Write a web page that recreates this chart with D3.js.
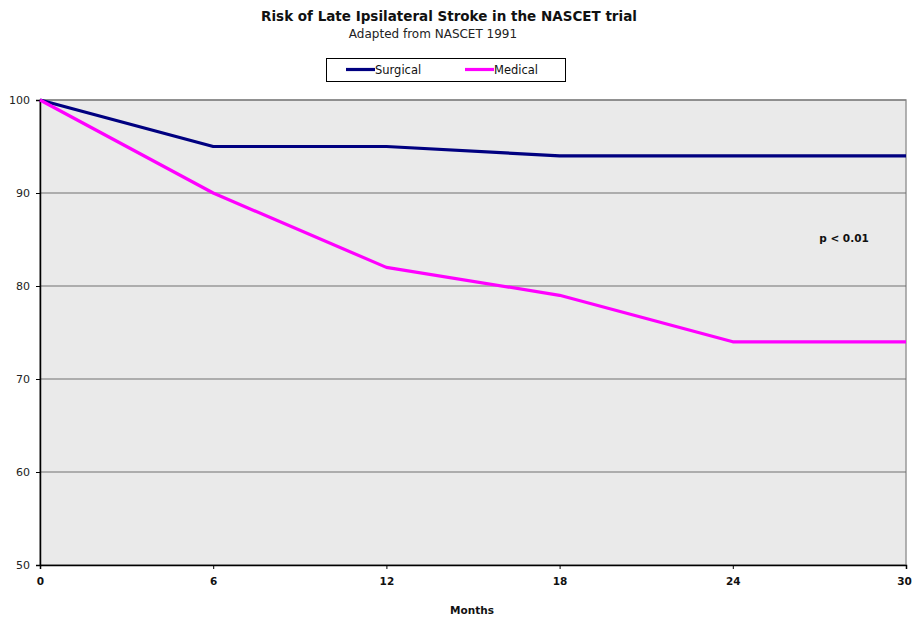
<!DOCTYPE html>
<html>
<head>
<meta charset="utf-8">
<script src="https://cdn.jsdelivr.net/npm/d3@7"></script>
<style>
  body { margin: 0; background: #fff; }
  text { font-family: "DejaVu Sans", "Open Sans", sans-serif; }
</style>
</head>
<body>
<svg id="chart" width="912" height="619"></svg>
<script>
// Months after randomisation and stroke-free percentage per arm
const months = [0, 6, 12, 18, 24, 30];
const surgical = [100, 95, 95, 94, 94, 94];
const medical = [100, 90, 82, 79, 74, 74];
const yTicks = [50, 60, 70, 80, 90, 100];
const seriesNames = ["Surgical", "Medical"];
const seriesColors = ["#000080", "#FF00FF"];

const svg = d3.select("#chart");
const plotLeft = 40, plotRight = 906, plotTop = 100, plotBottom = 565;

const x = d3.scaleLinear().domain([0, 30]).range([plotLeft, plotRight]);
const y = d3.scaleLinear().domain([50, 100]).range([plotBottom, plotTop]);

// Plot background
svg.append("rect")
  .attr("x", plotLeft).attr("y", plotTop)
  .attr("width", plotRight - plotLeft).attr("height", plotBottom - plotTop)
  .attr("fill", "#EAEAEA")
  .attr("stroke", "#999").attr("stroke-width", 1.5);

// Horizontal gridlines
svg.append("g").selectAll("line")
  .data(yTicks.filter(d => d > 50))
  .join("line")
  .attr("x1", plotLeft).attr("x2", plotRight)
  .attr("y1", d => y(d)).attr("y2", d => y(d))
  .attr("stroke", "#707070").attr("stroke-width", 1.2);

// Y axis
const yAxis = svg.append("g")
  .attr("transform", `translate(${plotLeft},0)`)
  .call(d3.axisLeft(y).tickValues(yTicks).tickSize(4).tickPadding(6));
yAxis.select(".domain").attr("stroke", "#000").attr("stroke-width", 1.5);
yAxis.selectAll(".tick line").attr("stroke", "#000");
yAxis.selectAll("text").attr("font-size", 11).attr("fill", "#222");

// X axis
const xAxis = svg.append("g")
  .attr("transform", `translate(0,${plotBottom})`)
  .call(d3.axisBottom(x).tickValues(months).tickSize(4).tickPadding(9));
xAxis.select(".domain").attr("stroke", "#000").attr("stroke-width", 1.5);
xAxis.selectAll(".tick line").attr("stroke", "#000");
xAxis.selectAll("text").attr("font-size", 10.5).attr("font-weight", "bold").attr("fill", "#111")
  .attr("dx", d => d === 30 ? -2 : 0);

// Series lines
const line = d3.line().x((d, i) => x(months[i])).y(d => y(d));
[surgical, medical].forEach((vals, k) => {
  svg.append("path")
    .datum(vals)
    .attr("d", line)
    .attr("fill", "none")
    .attr("stroke", seriesColors[k])
    .attr("stroke-width", 3.2)
    .attr("stroke-linejoin", "round");
});

// Titles
svg.append("text")
  .attr("x", 449).attr("y", 21)
  .attr("text-anchor", "middle")
  .attr("font-size", 13.5).attr("font-weight", "bold").attr("fill", "#111")
  .text("Risk of Late Ipsilateral Stroke in the NASCET trial");
svg.append("text")
  .attr("x", 433).attr("y", 38)
  .attr("text-anchor", "middle")
  .attr("font-size", 12).attr("fill", "#222")
  .text("Adapted from NASCET 1991");

// Legend
svg.append("rect")
  .attr("x", 326.5).attr("y", 58.5).attr("width", 239).attr("height", 23)
  .attr("fill", "#fff").attr("stroke", "#000").attr("stroke-width", 1);
const legendX = [346, 465];
seriesNames.forEach((name, k) => {
  svg.append("line")
    .attr("x1", legendX[k]).attr("x2", legendX[k] + 29)
    .attr("y1", 69.5).attr("y2", 69.5)
    .attr("stroke", seriesColors[k]).attr("stroke-width", 3.2);
  svg.append("text")
    .attr("x", legendX[k] + 29).attr("y", 74)
    .attr("font-size", 11.5).attr("fill", "#111")
    .text(name);
});

// Significance annotation
svg.append("text")
  .attr("x", 844).attr("y", 242)
  .attr("text-anchor", "middle")
  .attr("font-size", 10.5).attr("font-weight", "bold").attr("fill", "#111")
  .text("p < 0.01");

// X axis title
svg.append("text")
  .attr("x", 472).attr("y", 614)
  .attr("text-anchor", "middle")
  .attr("font-size", 10.5).attr("font-weight", "bold").attr("fill", "#111")
  .text("Months");
</script>
</body>
</html>
